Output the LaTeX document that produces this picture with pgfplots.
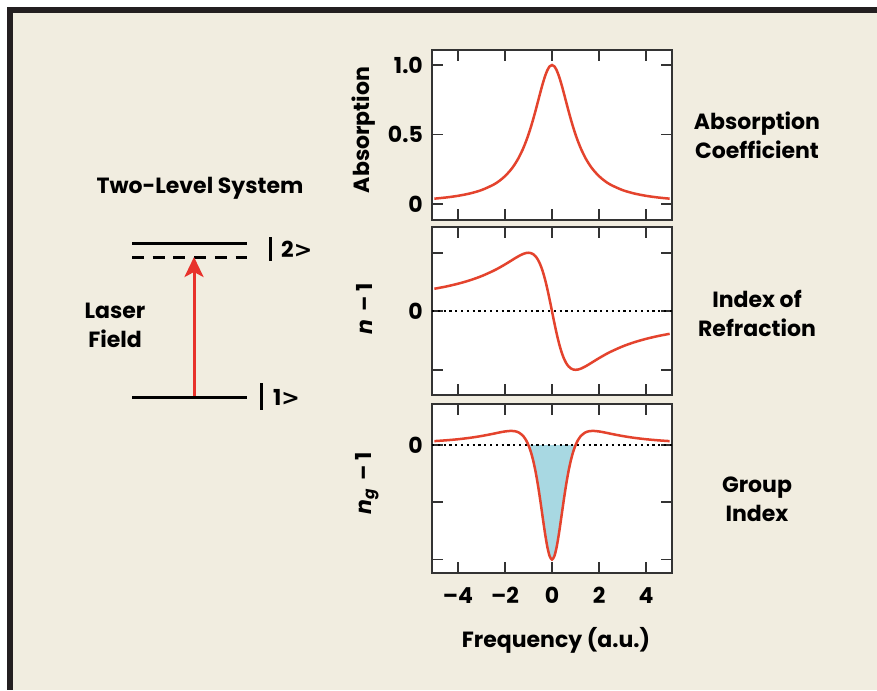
\documentclass[border=0pt]{standalone}
\usepackage{fontspec}
\setmainfont{Poppins}
\newfontfamily\dvsans{DejaVu Sans}
\usepackage{pgfplots}
\usepackage{pgfplotstable}
\pgfplotsset{compat=1.18}
\usetikzlibrary{arrows.meta}

\definecolor{bgbeige}{HTML}{F1EDE0}
\definecolor{frameblk}{HTML}{231F20}
\definecolor{curvered}{HTML}{E4432D}
\definecolor{arrowred}{HTML}{E8322B}
\definecolor{fillblue}{HTML}{A8D8E2}
\definecolor{axgrey}{HTML}{333333}

\newcommand{\lbl}{\fontsize{22}{29}\selectfont\bfseries}
\newcommand{\ket}{{\dvsans\bfseries >}}

% x, absorption, n-1, ng-1
\pgfplotstableread{
x A N G
-5 0.0385 0.3846 0.0710
-4.5 0.0471 0.4235 0.0853
-4 0.0588 0.4706 0.1038
-3.5 0.0755 0.5283 0.1282
-3 0.1000 0.6000 0.1600
-2.5 0.1379 0.6897 0.1998
-2.25 0.1649 0.7423 0.2211
-2 0.2000 0.8000 0.2400
-1.75 0.2462 0.8615 0.2499
-1.6 0.2809 0.8989 0.2462
-1.5 0.3077 0.9231 0.2367
-1.4 0.3378 0.9459 0.2191
-1.25 0.3902 0.9756 0.1713
-1.2 0.4098 0.9836 0.1478
-1.1 0.4525 0.9955 0.0860
-1 0.5000 1.0000 0.0000
-0.9 0.5525 0.9945 -0.1160
-0.8 0.6098 0.9756 -0.2677
-0.7 0.6711 0.9396 -0.4594
-0.6 0.7353 0.8824 -0.6920
-0.5 0.8000 0.8000 -0.9600
-0.4 0.8621 0.6897 -1.2485
-0.3 0.9174 0.5505 -1.5319
-0.2 0.9615 0.3846 -1.7751
-0.1 0.9901 0.1980 -1.9410
0 1.0000 0.0000 -2.0000
0.1 0.9901 -0.1980 -1.9410
0.2 0.9615 -0.3846 -1.7751
0.3 0.9174 -0.5505 -1.5319
0.4 0.8621 -0.6897 -1.2485
0.5 0.8000 -0.8000 -0.9600
0.6 0.7353 -0.8824 -0.6920
0.7 0.6711 -0.9396 -0.4594
0.8 0.6098 -0.9756 -0.2677
0.9 0.5525 -0.9945 -0.1160
1 0.5000 -1.0000 0.0000
1.1 0.4525 -0.9955 0.0860
1.2 0.4098 -0.9836 0.1478
1.25 0.3902 -0.9756 0.1713
1.4 0.3378 -0.9459 0.2191
1.5 0.3077 -0.9231 0.2367
1.6 0.2809 -0.8989 0.2462
1.75 0.2462 -0.8615 0.2499
2 0.2000 -0.8000 0.2400
2.25 0.1649 -0.7423 0.2211
2.5 0.1379 -0.6897 0.1998
3 0.1000 -0.6000 0.1600
3.5 0.0755 -0.5283 0.1282
4 0.0588 -0.4706 0.1038
4.5 0.0471 -0.4235 0.0853
5 0.0385 -0.3846 0.0710
}\curves

\pgfplotsset{
  panel/.style={
    scale only axis, width=240pt, anchor=north west,
    xmin=-5.1, xmax=5.1, xtick={-4,-2,0,2,4},
    tick align=inside, major tick length=11pt,
    axis line style={line width=1.8pt, axgrey},
    tick style={line width=1.8pt, axgrey},
    axis background/.style={fill=white},
    tick label style={font=\lbl, text=black},
    yticklabel style={inner sep=0pt, xshift=-9pt},
    xticklabel style={inner sep=0pt, yshift=-14pt},
  },
  redcurve/.style={curvered, line width=2.5pt, smooth},
  zeroline/.style={black, line width=2.2pt, dash pattern=on 2.2pt off 3.6pt},
}

\begin{document}
\begin{tikzpicture}
\path[use as bounding box] (0,0) rectangle (877pt,-690pt);
\fill[white] (0,0) rectangle (877pt,-690pt);
\fill[frameblk] (7pt,-7.5pt) rectangle (877pt,-690pt);
\fill[bgbeige] (12.5pt,-13pt) rectangle (877pt,-690pt);

% absorption
\begin{axis}[panel, at={(432pt,-50pt)}, height=170pt,
  ymin=-0.115, ymax=1.108, ytick={0,0.5,1}, yticklabels={0,0.5,1.0},
  xticklabels={}]
\addplot[redcurve] table[x=x, y=A] {\curves};
\end{axis}

% index of refraction
\begin{axis}[panel, at={(432pt,-227pt)}, height=168pt,
  ymin=-1.43, ymax=1.44, ytick={-1,0,1}, yticklabels={,0,},
  xticklabels={}]
\addplot[zeroline] coordinates {(-5.1,0) (5.1,0)};
\addplot[redcurve] table[x=x, y=N] {\curves};
\end{axis}

% group index
\begin{axis}[panel, at={(432pt,-404pt)}, height=169pt,
  ymin=-2.235, ymax=0.72, ytick={-2,-1,0}, yticklabels={,,0},
  xticklabels={--4,--2,0,2,4}]
\addplot[fill=fillblue, draw=none, smooth, restrict x to domain=-1:1] table[x=x, y=G] {\curves};
\addplot[zeroline] coordinates {(-5.1,0) (5.1,0)};
\addplot[redcurve] table[x=x, y=G] {\curves};
\end{axis}

% axis titles
\node[font=\lbl, rotate=90] at (364pt,-130pt) {Absorption};
\node[font=\lbl, rotate=90] at (364pt,-309pt) {\textit{n}\, -- 1};
\node[font=\lbl, rotate=90] at (367pt,-483pt) {\textit{n}\textsubscript{\textit{g}}\, -- 1};
\node[font=\lbl] at (556pt,-640pt) {Frequency (a.u.)};

% right-hand captions
\node[font=\lbl, align=center] at (757pt,-135.5pt) {Absorption\\Coefficient};
\node[font=\lbl, align=center] at (757pt,-313.5pt) {Index of\\Refraction};
\node[font=\lbl, align=center] at (757pt,-499.5pt) {Group\\Index};

% two-level diagram
\node[font=\lbl] at (200pt,-188pt) {Two-Level System};
\draw[line width=3pt, black] (132pt,-243pt) -- (247pt,-243pt);
\draw[line width=3pt, black, dash pattern=on 12pt off 8.7pt] (132pt,-257pt) -- (247pt,-257pt);
\draw[line width=3pt, black] (132pt,-397pt) -- (247pt,-397pt);
\draw[line width=3pt, black] (270pt,-237pt) -- (270pt,-261pt);
\draw[line width=3pt, black] (261pt,-383pt) -- (261pt,-410pt);
\node[font=\lbl, anchor=west, inner sep=0pt] at (281pt,-249pt) {2\ket};
\node[font=\lbl, anchor=west, inner sep=0pt] at (273pt,-397pt) {1\ket};
\draw[line width=3pt, arrowred, -{Stealth[length=20pt, width=19pt, inset=5pt]}] (194pt,-396pt) -- (194pt,-257pt);
\node[font=\lbl, align=center] at (115pt,-325pt) {Laser\\Field};
\end{tikzpicture}
\end{document}
